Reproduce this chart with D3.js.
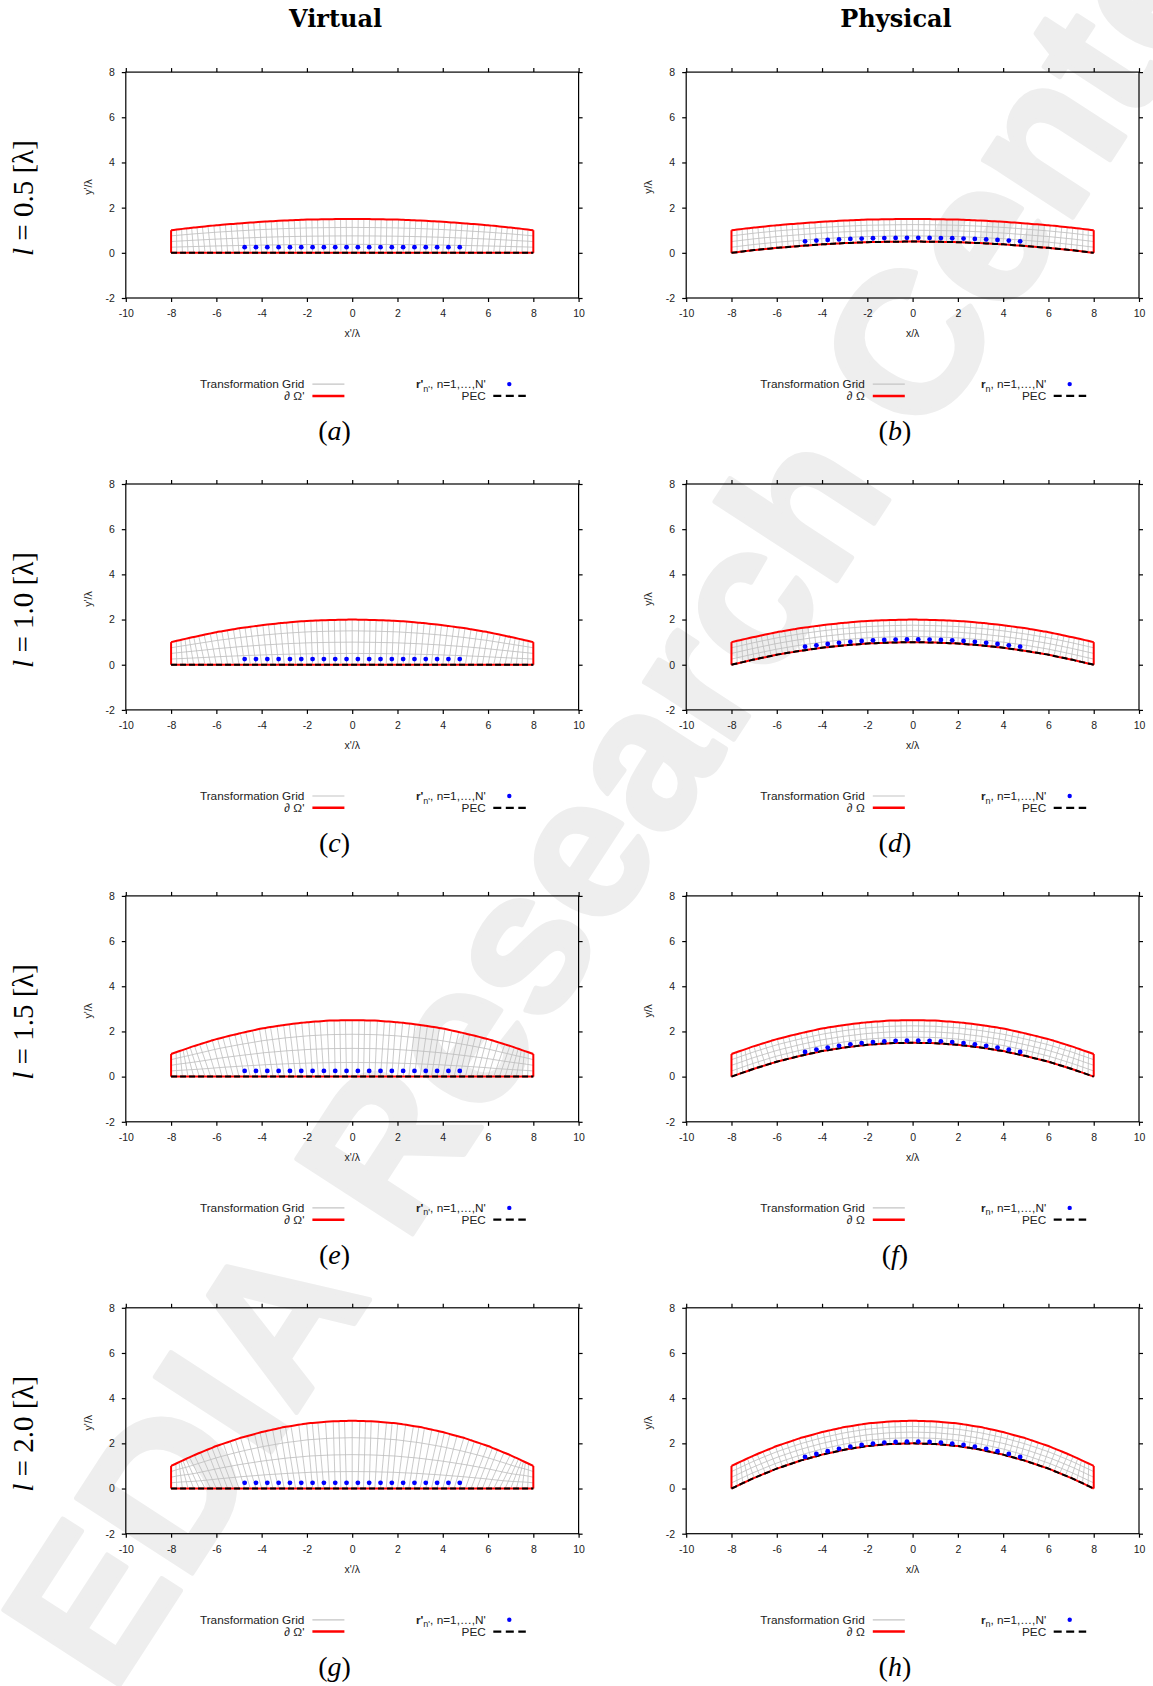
<!DOCTYPE html>
<html>
<head>
<meta charset="utf-8">
<script src="https://cdn.jsdelivr.net/npm/d3@7"></script>
<style>
  body { margin: 0; background: #fff; }
  text { font-family: "Liberation Sans", Arial, sans-serif; }
</style>
</head>
<body>
<div id="chart"></div>
<script>
var svgWidth = 1153;
var svgHeight = 1686;

// arch lengths l of the four rows
var archLengths = ["0.5", "1.0", "1.5", "2.0"];
var virtualTags = ["a", "c", "e", "g"];
var physicalTags = ["b", "d", "f", "h"];

// sample abscissas of the boundaries (x / lambda)
var archX = [-8, -7, -6, -5, -4, -3, -2, -1, 0, 1, 2, 3, 4, 5, 6, 7, 8];

// physical PEC height (outer boundary = PEC + 1)
var pecL05 = [0, 0.12, 0.22, 0.30, 0.375, 0.43, 0.47, 0.49, 0.5, 0.49, 0.47, 0.43, 0.375, 0.30, 0.22, 0.12, 0];
var pecL10 = [0, 0.23, 0.44, 0.61, 0.75, 0.86, 0.94, 0.98, 1.0, 0.98, 0.94, 0.86, 0.75, 0.61, 0.44, 0.23, 0];
var pecL15 = [0, 0.35, 0.66, 0.91, 1.13, 1.29, 1.41, 1.48, 1.5, 1.48, 1.41, 1.29, 1.13, 0.91, 0.66, 0.35, 0];
var pecL20 = [0, 0.47, 0.88, 1.22, 1.5, 1.72, 1.88, 1.97, 2.0, 1.97, 1.88, 1.72, 1.5, 1.22, 0.88, 0.47, 0];
var pecHeights = [pecL05, pecL10, pecL15, pecL20];

// source points r'_n in the virtual space
var sourceX = [-4.75, -4.25, -3.75, -3.25, -2.75, -2.25, -1.75, -1.25, -0.75, -0.25,
               0.25, 0.75, 1.25, 1.75, 2.25, 2.75, 3.25, 3.75, 4.25, 4.75];
var sourceYVirtual = 0.25;

// grid columns (x / lambda) and row fractions of the transformation grid
var gridColumns = d3.range(-8, 8.001, 0.25);
var gridRows = [0.25, 0.5, 0.75];

var xTicks = [-10, -8, -6, -4, -2, 0, 2, 4, 6, 8, 10];
var yTicks = [-2, 0, 2, 4, 6, 8];

var panelW = 452.8, panelH = 225.9;
var colLeft = [125.8, 686.2];
var rowTop = [72.1, 484.0, 895.9, 1307.8];

var svg = d3.select("#chart").append("svg")
    .attr("width", svgWidth)
    .attr("height", svgHeight)
    .style("background", "#fff");

// watermark behind everything
var wm = svg.append("g")
    .attr("transform", "translate(405,1245) rotate(-57)")
    .style("font-family", "'DejaVu Sans', sans-serif")
    .style("font-weight", "bold")
    .style("font-size", "200px")
    .attr("fill", "#eeeeee")
    .attr("stroke", "#eeeeee")
    .attr("stroke-width", 5)
    .attr("stroke-linejoin", "round");
wm.append("text").attr("x", -60).attr("text-anchor", "end").text("ELEDIA");
wm.append("text").attr("x", 0).attr("text-anchor", "start").text("Research Center");

// column titles
[["Virtual", 335.6], ["Physical", 896]].forEach(function(t) {
    svg.append("text")
        .attr("x", t[1]).attr("y", 27)
        .attr("text-anchor", "middle")
        .style("font-family", "'DejaVu Serif', serif")
        .style("font-weight", "bold")
        .style("font-size", "24px")
        .text(t[0]);
});

function drawPanel(row, col) {
    var left = colLeft[col], top = rowTop[row];
    var physical = col === 1;
    var x = d3.scaleLinear().domain([-10, 10]).range([left, left + panelW]);
    var y = d3.scaleLinear().domain([-2, 8]).range([top + panelH, top]);
    var pec = d3.scaleLinear().domain(archX).range(pecHeights[row]);
    var outer = function(v) { return pec(v) + 1; };
    var bottom = physical ? pec : function() { return 0; };
    var g = svg.append("g");

    function slope(f, v) { return (f(v + 0.01) - f(v - 0.01)) / 0.02; }
    function taper(v) {
        var d = Math.min(1, (8 - Math.abs(v)) / 1.5);
        return d * d * (3 - 2 * d);
    }

    // column lines: from bottom boundary to outer boundary
    var cols = gridColumns.map(function(xb) {
        var h = outer(xb) - bottom(xb);
        var dx = -slope(outer, xb) * h * taper(xb) * (physical ? 0.9 : 1.0);
        var xt = Math.max(-8, Math.min(8, xb + dx));
        return { b: [xb, bottom(xb)], t: [xt, outer(xt)] };
    });
    function at(c, s) {
        return [c.b[0] + s * (c.t[0] - c.b[0]), c.b[1] + s * (c.t[1] - c.b[1])];
    }
    var line = d3.line().x(function(p) { return x(p[0]); }).y(function(p) { return y(p[1]); });
    var curve = d3.line().x(function(p) { return x(p[0]); }).y(function(p) { return y(p[1]); })
        .curve(d3.curveMonotoneX);

    g.selectAll(".col").data(cols).enter().append("path")
        .attr("d", function(c) { return line([c.b, c.t]); })
        .attr("fill", "none").attr("stroke", "#bdbdbd").attr("stroke-width", 0.8);
    g.selectAll(".row").data(gridRows).enter().append("path")
        .attr("d", function(s) { return curve(cols.map(function(c) { return at(c, s); })); })
        .attr("fill", "none").attr("stroke", "#bdbdbd").attr("stroke-width", 0.8);

    // boundary dOmega
    var topPts = gridColumns.map(function(v) { return [v, outer(v)]; });
    var botPts = gridColumns.map(function(v) { return [v, bottom(v)]; });
    g.append("path").attr("d", curve(topPts)).attr("fill", "none")
        .attr("stroke", "#ff0000").attr("stroke-width", 2);
    g.append("path").attr("d", curve(botPts)).attr("fill", "none")
        .attr("stroke", "#ff0000").attr("stroke-width", 2);
    [-8, 8].forEach(function(v) {
        g.append("path").attr("d", line([[v, bottom(v)], [v, outer(v)]]))
            .attr("stroke", "#ff0000").attr("stroke-width", 2);
    });
    // PEC
    g.append("path").attr("d", curve(botPts)).attr("fill", "none")
        .attr("stroke", "#000").attr("stroke-width", 2)
        .attr("stroke-dasharray", "6,3");

    // sources
    g.selectAll(".src").data(sourceX).enter().append("circle")
        .attr("cx", function(v) { return x(v); })
        .attr("cy", function(v) {
            return y(physical ? pec(v) + sourceYVirtual / outer(v) : sourceYVirtual);
        })
        .attr("r", 2.4).attr("fill", "#0000ff");

    // frame and mirrored outward ticks
    var plain = function(d) { return String(d); };
    g.append("rect").attr("x", left).attr("y", top)
        .attr("width", panelW).attr("height", panelH)
        .attr("fill", "none").attr("stroke", "#000").attr("stroke-width", 1.2);
    g.append("g").attr("transform", "translate(0," + (top + panelH) + ")")
        .call(d3.axisBottom(x).tickValues(xTicks).tickSizeInner(4).tickSizeOuter(0)
            .tickPadding(8).tickFormat(plain));
    g.append("g").attr("transform", "translate(0," + top + ")")
        .call(d3.axisTop(x).tickValues(xTicks).tickSizeInner(4).tickSizeOuter(0).tickFormat(""));
    g.append("g").attr("transform", "translate(" + left + ",0)")
        .call(d3.axisLeft(y).tickValues(yTicks).tickSizeInner(4).tickSizeOuter(0)
            .tickPadding(7).tickFormat(plain));
    g.append("g").attr("transform", "translate(" + (left + panelW) + ",0)")
        .call(d3.axisRight(y).tickValues(yTicks).tickSizeInner(4).tickSizeOuter(0).tickFormat(""));
    g.selectAll(".domain").remove();
    g.selectAll(".tick line").attr("stroke", "#000").attr("stroke-width", 1.2);
    g.selectAll(".tick text").style("font-size", "10.5px").attr("fill", "#222")
        .style("font-family", "'Liberation Sans', Arial, sans-serif");

    var prime = physical ? "" : "'";
    g.append("text").attr("x", x(0)).attr("y", top + panelH + 39)
        .attr("text-anchor", "middle").style("font-size", "10.5px").attr("fill", "#222")
        .text("x" + prime + "/\u03bb");
    g.append("text")
        .attr("transform", "translate(" + (left - 34) + "," + (top + panelH / 2 + 2) + ") rotate(-90)")
        .attr("text-anchor", "middle").style("font-size", "10.5px").attr("fill", "#222")
        .text("y" + prime + "/\u03bb");

    // legend
    var lx = left + 178.6, ly = top + 312;
    var leg = g.append("g").style("font-size", "11.8px").attr("fill", "#222");
    leg.append("text").attr("x", lx).attr("y", ly + 4).attr("text-anchor", "end")
        .text("Transformation Grid");
    leg.append("line").attr("x1", lx + 8).attr("x2", lx + 40).attr("y1", ly).attr("y2", ly)
        .attr("stroke", "#c4c4c4").attr("stroke-width", 1.2);
    leg.append("text").attr("x", lx).attr("y", ly + 16).attr("text-anchor", "end")
        .text("\u2202 \u03a9" + prime);
    leg.append("line").attr("x1", lx + 8).attr("x2", lx + 40).attr("y1", ly + 11.8).attr("y2", ly + 11.8)
        .attr("stroke", "#ff0000").attr("stroke-width", 2.5);
    var rx = left + 360;
    var t1 = leg.append("text").attr("x", rx).attr("y", ly + 4).attr("text-anchor", "end");
    t1.append("tspan").style("font-weight", "bold").text("r" + prime);
    t1.append("tspan").attr("dy", 3.5).style("font-size", "9px").text("n" + prime);
    t1.append("tspan").attr("dy", -3.5).text(", n=1,\u2026,N'");
    leg.append("circle").attr("cx", rx + 23.5).attr("cy", ly).attr("r", 2.2).attr("fill", "#0000ff");
    leg.append("text").attr("x", rx).attr("y", ly + 16).attr("text-anchor", "end").text("PEC");
    leg.append("line").attr("x1", rx + 7.5).attr("x2", rx + 40).attr("y1", ly + 11.8).attr("y2", ly + 11.8)
        .attr("stroke", "#000").attr("stroke-width", 2.2).attr("stroke-dasharray", "8,4.5");

    // sub label (a), (b), ...
    var tag = physical ? physicalTags[row] : virtualTags[row];
    var st = g.append("text").attr("x", left + 208.7).attr("y", top + 368)
        .attr("text-anchor", "middle")
        .style("font-family", "'Liberation Serif', 'DejaVu Serif', serif")
        .style("font-size", "28px");
    st.append("tspan").text("(");
    st.append("tspan").style("font-style", "italic").text(tag);
    st.append("tspan").text(")");
}

archLengths.forEach(function(l, row) {
    drawPanel(row, 0);
    drawPanel(row, 1);
    var cy = rowTop[row] + 126;
    var rl = svg.append("text")
        .attr("transform", "translate(33," + cy + ") rotate(-90)")
        .attr("text-anchor", "middle")
        .style("font-family", "'Liberation Serif', 'DejaVu Serif', serif")
        .style("font-size", "29px");
    rl.append("tspan").style("font-style", "italic").text("l");
    rl.append("tspan").text(" = " + l + " [\u03bb]");
});
</script>
</body>
</html>
